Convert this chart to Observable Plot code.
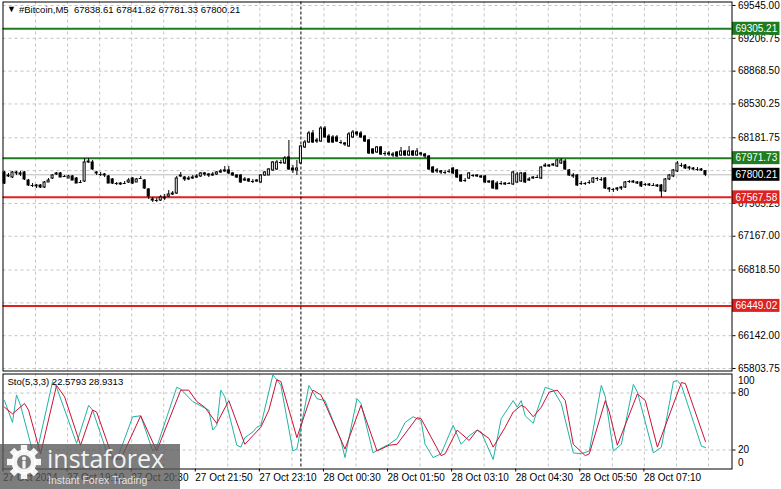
<!DOCTYPE html>
<html><head><meta charset="utf-8">
<script src="https://cdn.jsdelivr.net/npm/d3@7"></script>
<script src="https://cdn.jsdelivr.net/npm/@observablehq/plot@0.6"></script>
<style>
body{margin:0;background:#fff;}
#wrap{position:relative;width:781px;height:489px;overflow:hidden;background:#fff;font-family:"Liberation Sans",Arial,sans-serif;}
#wrap svg.pl{position:absolute;left:0;}
#wm{position:absolute;left:0;top:444px;width:180px;height:45px;background:rgba(88,88,88,0.78);}
</style></head><body><div id="wrap"></div>
<script>
// ---- data ----
const symbolTitle = "#Bitcoin,M5\u00a0\u00a067838.61 67841.82 67781.33 67800.21";
const stochTitle = "Sto(5,3,3) 22.5793 28.9313";

const opens = [67824,67783,67772,67824,67814,67824,67741,67690,67690,67690,
 67669,67721,67762,67803,67814,67783,67762,67783,67762,67721,
 67731,67927,67927,67824,67803,67803,67783,67752,67710,67710,
 67710,67721,67762,67721,67762,67741,67649,67546,67535,67535,
 67566,67576,67597,67607,67783,67772,67752,67762,67772,67783,
 67814,67803,67793,67803,67824,67835,67845,67814,67793,67793,
 67741,67752,67731,67731,67721,67793,67793,67845,67855,67927,
 67917,67979,67865,67845,67917,68082,68133,68226,68143,68143,
 68277,68195,68185,68185,68133,68123,68092,68185,68236,68226,
 68195,68154,68061,68030,68082,68020,68020,68009,68030,67999,
 68040,67999,68040,67999,68020,68009,67989,67875,67845,67835,
 67824,67835,67865,67845,67793,67741,67762,67793,67793,67783,
 67783,67721,67731,67710,67710,67700,67710,67700,67721,67731,
 67814,67741,67762,67772,67762,67886,67896,67896,67886,67917,
 67937,67845,67793,67793,67710,67710,67721,67721,67762,67752,
 67762,67659,67649,67649,67659,67669,67731,67731,67710,67721,
 67700,67700,67690,67690,67690,67628,67752,67783,67835,67896,
 67896,67875,67865,67855,67855,67838.61];
const highs = [67835,67814,67835,67835,67835,67835,67752,67710,67700,67700,
 67731,67762,67803,67824,67824,67793,67793,67793,67772,67741,
 67968,67968,67948,67835,67824,67814,67793,67762,67721,67721,
 67731,67762,67772,67762,67783,67752,67659,67566,67556,67587,
 67597,67638,67628,67783,67824,67783,67783,67793,67803,67824,
 67824,67814,67824,67835,67855,67886,67886,67824,67803,67803,
 67772,67762,67752,67752,67803,67835,67865,67937,67948,67948,
 67989,68154,67896,67948,68102,68154,68247,68257,68174,68298,
 68298,68216,68205,68205,68154,68133,68236,68257,68247,68247,
 68205,68164,68071,68092,68092,68040,68040,68030,68040,68082,
 68051,68092,68051,68071,68030,68020,67999,67886,67865,67845,
 67845,67855,67875,67855,67803,67762,67824,67803,67803,67793,
 67793,67741,67741,67731,67731,67721,67721,67835,67824,67824,
 67824,67772,67783,67793,67886,67917,67906,67917,67958,67968,
 67958,67855,67814,67803,67731,67721,67741,67772,67772,67772,
 67772,67669,67659,67669,67680,67731,67741,67741,67731,67731,
 67710,67710,67710,67700,67700,67762,67803,67855,67937,67917,
 67906,67886,67875,67875,67865,67841.82];
const lows = [67700,67772,67762,67793,67783,67741,67680,67669,67659,67659,
 67659,67721,67752,67793,67772,67772,67762,67741,67710,67710,
 67721,67917,67845,67793,67783,67772,67710,67700,67690,67690,
 67700,67710,67700,67721,67752,67649,67546,67515,67515,67525,
 67535,67566,67587,67597,67772,67731,67741,67752,67762,67772,
 67783,67772,67783,67793,67814,67824,67803,67783,67762,67710,
 67731,67721,67710,67721,67710,67783,67793,67835,67845,67906,
 67906,67845,67814,67793,67906,68071,68123,68123,68123,68133,
 68174,68123,68123,68133,68112,68092,68082,68174,68195,68174,
 68133,68009,68009,68020,67999,67989,67989,67979,67979,67989,
 67989,67989,67989,67989,67989,67968,67845,67814,67814,67803,
 67803,67814,67803,67762,67721,67721,67752,67772,67772,67762,
 67710,67710,67649,67649,67690,67690,67700,67690,67710,67721,
 67710,67731,67752,67762,67752,67875,67875,67886,67875,67906,
 67845,67783,67762,67680,67690,67690,67700,67710,67731,67731,
 67649,67618,67618,67628,67638,67659,67710,67710,67700,67669,
 67680,67680,67680,67669,67566,67618,67741,67772,67824,67875,
 67855,67845,67845,67835,67835,67781.33];
const closes = [67710,67793,67824,67814,67803,67752,67690,67690,67680,67669,
 67721,67741,67793,67814,67772,67783,67783,67741,67710,67721,
 67927,67937,67855,67814,67803,67793,67710,67710,67710,67700,
 67710,67741,67710,67752,67762,67659,67576,67535,67535,67566,
 67556,67597,67607,67762,67793,67752,67762,67772,67783,67814,
 67803,67793,67803,67824,67835,67845,67814,67793,67772,67721,
 67752,67731,67731,67741,67793,67824,67855,67927,67927,67927,
 67968,67855,67845,67865,68092,68133,68226,68133,68154,68277,
 68185,68133,68133,68143,68133,68112,68216,68236,68216,68185,
 68143,68020,68020,68082,68009,68020,68009,67999,67989,68040,
 67999,68040,67999,68040,68009,67989,67855,67824,67835,67824,
 67824,67835,67814,67772,67731,67741,67814,67793,67783,67772,
 67721,67731,67659,67649,67710,67710,67710,67824,67803,67814,
 67721,67752,67772,67772,67875,67896,67886,67906,67948,67948,
 67855,67793,67783,67690,67710,67710,67721,67762,67762,67752,
 67659,67649,67649,67659,67669,67721,67731,67721,67721,67680,
 67700,67690,67690,67680,67628,67752,67793,67845,67917,67896,
 67865,67865,67855,67855,67845,67800.21];

const priceTicks = [69545.00,69206.75,68868.50,68530.25,68181.75,67843.50,67505.25,67167.00,66818.50,66480.25,66142.00,65803.75];
// labels of 67843.50 and 66480.25 sit under the price boxes and are not visible
const priceLabels = [69545.00,69206.75,68868.50,68530.25,68181.75,67505.25,67167.00,66818.50,66142.00,65803.75];
const levelPrices = [69305.21, 67971.73, 67567.58, 66449.02];
const levelKinds = ["resist", "resist", "support", "support"];
const currentPrice = 67800.21;
const separatorBar = 74;

const timeBars = [0,16,32,48,64,80,96,112,128,144,160];
const timeLabels = ["27 Oct 2024","27 Oct 19:10","27 Oct 20:30","27 Oct 21:50","27 Oct 23:10","28 Oct 00:30","28 Oct 01:50","28 Oct 03:10","28 Oct 04:30","28 Oct 05:50","28 Oct 07:10"];

const kBars = [0,2,3,4,7,8,12,13,18,21,22,26,28,32,34,37,38,43,44,47,51,52,53,54,55,58,59,60,62,63,64,67,68,69,72,73,76,78,80,84,85,88,89,92,95,96,98,100,102,104,105,107,109,112,114,116,118,119,122,124,127,128,129,130,132,133,135,137,139,142,144,146,149,150,152,154,157,158,162,164,167,168,169,174,175];
const kValues = [72,49,78,67,19,16,92,86,27,67,62,12,9,55,56,19,23,86,84,71,62,41,46,83,76,25,23,33,39,44,46,99,94,88,19,21,88,74,72,30,12,74,69,17,24,26,32,49,55,51,26,12,16,46,26,35,41,39,10,53,72,65,72,56,48,62,86,83,69,17,16,19,88,76,19,26,89,81,17,23,92,93,88,24,22.58];
const dBars = [0,2,5,6,9,13,15,19,22,23,27,29,34,38,44,46,48,50,53,56,60,62,64,66,68,69,73,77,79,80,85,89,93,95,96,98,103,104,109,110,113,116,118,121,122,125,127,129,130,132,134,136,138,140,142,145,146,150,151,153,158,160,163,169,170,175];
const dValues = [65,58,69,62,16,88,76,25,62,60,12,10,56,19,83,83,71,65,48,72,26,35,44,62,94,92,33,83,78,69,21,67,19,23,25,26,54,53,14,16,41,30,41,32,23,44,60,67,65,55,65,81,83,72,26,14,16,72,60,25,79,72,23,91,90,28.93];
const stochLevels = [80, 20];

// ---- build ----
const bars = opens.map((o, i) => ({i, o, h: highs[i], l: lows[i], c: closes[i]}));
const levels = levelPrices.map((p, j) => ({price: p, kind: levelKinds[j]}));
const GREEN = "#1f7d1f", RED = "#de2121", GRID = "#c4c4c4";
const colorOf = k => k === "resist" ? GREEN : RED;
const kPts = kBars.map((b, j) => ({b, v: kValues[j]}));
const dPts = dBars.map((b, j) => ({b, v: dValues[j]}));
const gridBars = d3.range(8, 181, 8);
const labelMap = new Map(timeBars.map((b, j) => [b, timeLabels[j]]));

const xDomain = [-0.375, 181.625];
const yDomain = [65778, 69581.1];
const mainH = 372, mT = 1.5, mB = 1.5;
const pricePerPx = (yDomain[1] - yDomain[0]) / (mainH - mT - mB);
const boxHalf = 6.5 * pricePerPx;
const font = "'Liberation Sans', Arial, sans-serif";
const dash = {stroke: GRID, strokeOpacity: 1, strokeDasharray: "3,3"};

const boxes = [...levels.map(d => ({price: d.price, fill: colorOf(d.kind)})), {price: currentPrice, fill: "#000"}];

const main = Plot.plot({
  width: 781, height: mainH,
  marginLeft: 2.5, marginRight: 49.5, marginTop: mT, marginBottom: mB,
  x: {type: "linear", domain: xDomain, axis: null},
  y: {domain: yDomain, label: null},
  style: {fontFamily: font, fontSize: "10px", background: "transparent", overflow: "visible", color: "#000"},
  marks: [
    Plot.gridY(priceTicks, dash),
    Plot.gridX(gridBars, {...dash, dx: -1}),
    Plot.ruleY([currentPrice], {stroke: "#bdbdbd"}),
    Plot.ruleY(levels, {y: "price", stroke: d => colorOf(d.kind), strokeWidth: 2}),
    Plot.ruleX([separatorBar], {stroke: "#000", strokeDasharray: "3,2"}),
    Plot.ruleX(bars, {x: "i", y1: "l", y2: "h", stroke: "#000"}),
    Plot.rect(bars.filter(d => d.o !== d.c), {x1: d => d.i - 0.25, x2: d => d.i + 0.25, y1: "o", y2: "c",
      fill: d => d.c > d.o ? "#fff" : "#000", stroke: "#000"}),
    Plot.ruleY(bars.filter(d => d.o === d.c), {y: "c", x1: d => d.i - 0.375, x2: d => d.i + 0.375, stroke: "#000"}),
    Plot.axisY(priceLabels, {anchor: "right", label: null, tickSize: 3, tickPadding: 3, tickFormat: d => d.toFixed(2), fontSize: 10}),
    Plot.rect(boxes, {x1: 181.75, x2: 193.6, y1: d => d.price - boxHalf, y2: d => d.price + boxHalf, fill: d => d.fill}),
    Plot.text(boxes, {x: 182.5, y: "price", text: d => d.price.toFixed(2), fill: "#fff", textAnchor: "start", fontSize: 10}),
    Plot.frame({stroke: "#000"}),
    Plot.text(["\u25BC"], {frameAnchor: "top-left", text: d => d, dx: 4, dy: 4, lineAnchor: "top", fontSize: 9, textAnchor: "start"}),
    Plot.text([symbolTitle], {frameAnchor: "top-left", text: d => d, dx: 16, dy: 4, lineAnchor: "top", fontSize: 9.5, textAnchor: "start"})
  ]
});
main.classList.add("pl");
main.style.top = "0px";

const stoch = Plot.plot({
  width: 781, height: 118,
  marginLeft: 2.5, marginRight: 49.5, marginTop: 2.5, marginBottom: 20.5,
  x: {type: "linear", domain: xDomain, label: null},
  y: {domain: [0, 100], label: null},
  style: {fontFamily: font, fontSize: "10px", background: "transparent", overflow: "visible", color: "#000"},
  marks: [
    Plot.gridY(stochLevels, dash),
    Plot.gridX(gridBars, {...dash, dx: -1}),
    Plot.ruleX([separatorBar], {stroke: "#000", strokeDasharray: "3,2"}),
    Plot.line(kPts, {x: "b", y: "v", stroke: "#22b2a4", strokeWidth: 1}),
    Plot.line(dPts, {x: "b", y: "v", stroke: "#cc1133", strokeWidth: 1}),
    Plot.axisY(stochLevels, {anchor: "right", label: null, tickSize: 3, tickPadding: 3, fontSize: 10}),
    Plot.axisY([100], {anchor: "right", label: null, tickSize: 0, tickPadding: 6, dy: 7, fontSize: 10}),
    Plot.axisY([0], {anchor: "right", label: null, tickSize: 0, tickPadding: 6, dy: -6, fontSize: 10}),
    Plot.axisX(timeBars, {anchor: "bottom", label: null, tickSize: 3, tickPadding: 2, tickFormat: d => labelMap.get(d), textAnchor: "start", dx: -1.5, fontSize: 10}),
    Plot.frame({stroke: "#000"}),
    Plot.text([stochTitle], {frameAnchor: "top-left", text: d => d, dx: 4.5, dy: 4, lineAnchor: "top", fontSize: 9.5, textAnchor: "start"})
  ]
});
stoch.classList.add("pl");
stoch.style.top = "371px";

const wrap = document.getElementById("wrap");
wrap.appendChild(main);
wrap.appendChild(stoch);

// watermark
const wm = document.createElement("div");
wm.id = "wm";
const teeth = d3.range(8).map(k => `<rect x="-3.2" y="-17" width="6.4" height="7" transform="rotate(${k * 45})"/>`).join("");
wm.innerHTML = `<svg width="180" height="45" style="position:absolute;left:0;top:0;overflow:visible">
  <g transform="translate(24,18)" fill="#fff" fill-opacity="0.92">
    <circle r="12.5"/>${teeth}
    <circle r="7" fill="#707070"/>
    <circle cy="-3.5" r="2" />
    <rect x="-1.6" y="-1" width="3.2" height="7.5"/>
  </g>
  <text x="47" y="24" font-size="25" fill="#fff" fill-opacity="0.93" font-family="'Open Sans', 'Liberation Sans', sans-serif">instaforex</text>
  <text x="48" y="40" font-size="10.5" fill="#f0f0f0" fill-opacity="0.9" font-family="'Liberation Sans', Arial, sans-serif">Instant Forex Trading</text>
</svg>`;
wrap.appendChild(wm);
</script>
</body></html>
